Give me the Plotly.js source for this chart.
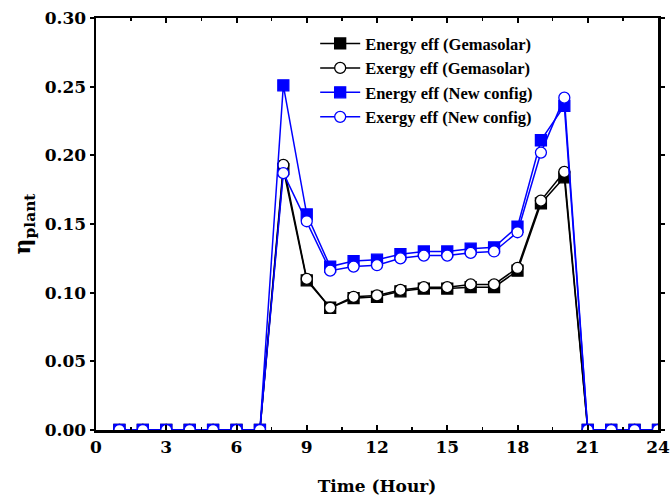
<!DOCTYPE html>
<html>
<head>
<meta charset="utf-8">
<script src="https://cdn.plot.ly/plotly-3.0.1.min.js"></script>
<style>html,body{margin:0;padding:0;background:#fff;}#chart{width:671px;height:499px;}</style>
</head>
<body>
<div id="chart"></div>
<script>
const hours = [1,2,3,4,5,6,7,8,9,10,11,12,13,14,15,16,17,18,19,20,21,22,23,24];
const energyGemasolar = [0,0,0,0,0,0,0,0.190,0.109,0.089,0.096,0.097,0.101,0.103,0.103,0.104,0.104,0.116,0.165,0.184,0,0,0,0];
const exergyGemasolar = [0,0,0,0,0,0,0,0.193,0.110,0.089,0.097,0.098,0.102,0.104,0.104,0.106,0.106,0.118,0.167,0.188,0,0,0,0];
const energyNew = [0,0,0,0,0,0,0,0.251,0.157,0.119,0.123,0.124,0.128,0.130,0.130,0.132,0.133,0.148,0.211,0.236,0,0,0,0];
const exergyNew = [0,0,0,0,0,0,0,0.187,0.152,0.116,0.119,0.120,0.125,0.127,0.127,0.129,0.130,0.144,0.202,0.242,0,0,0,0];
const seriesNames = ["Energy eff (Gemasolar)","Exergy eff (Gemasolar)","Energy eff (New config)","Exergy eff (New config)"];

const font = "DejaVu Serif, Liberation Serif, serif";
const legendFont = "Liberation Serif, DejaVu Serif, serif";
function tr(y, name, color, symbol, fill){
  return {x: hours, y: y, name: name, type: "scatter", mode: "lines+markers",
    line: {color: color, width: 1.5},
    marker: {symbol: symbol, size: 11, color: fill, line: {color: color, width: 1.3}}};
}
const data = [
  tr(energyGemasolar, seriesNames[0], "#000000", "square", "#000000"),
  tr(exergyGemasolar, seriesNames[1], "#000000", "circle", "#ffffff"),
  tr(energyNew, seriesNames[2], "#0000ff", "square", "#0000ff"),
  tr(exergyNew, seriesNames[3], "#0000ff", "circle", "#ffffff")
];
const layout = {
  width: 671, height: 499,
  margin: {l: 96, r: 13, t: 18, b: 69},
  paper_bgcolor: "#fff", plot_bgcolor: "#fff",
  font: {family: font, color: "#000", size: 17},
  showlegend: true,
  legend: {x: 0.39, y: 0.98, xanchor: "left", yanchor: "top", bgcolor: "rgba(0,0,0,0)",
    font: {family: legendFont, size: 16.5, color: "#000", weight: "bold"}, tracegroupgap: 0, itemwidth: 40},
  xaxis: {range: [0, 24], tick0: 0, dtick: 3, showgrid: false, zeroline: false,
    showline: true, mirror: "ticks", linecolor: "#000", linewidth: 2.5,
    ticks: "inside", ticklen: 5, tickwidth: 2, tickcolor: "#000",
    minor: {dtick: 1.5, ticks: "inside", ticklen: 3, tickwidth: 1.5, tickcolor: "#000"},
    tickfont: {family: font, size: 17, weight: "bold"},
    title: {text: "Time (Hour)", font: {family: font, size: 17, weight: "bold"}, standoff: 24}},
  yaxis: {range: [0, 0.30], tick0: 0, dtick: 0.05, tickformat: ".2f", showgrid: false, zeroline: false,
    showline: true, mirror: "ticks", linecolor: "#000", linewidth: 2.5,
    ticks: "outside", ticklen: 4, tickwidth: 2, tickcolor: "#000",
    tickfont: {family: font, size: 17, weight: "bold"},
    title: {text: "η<sub>plant</sub>", font: {family: font, size: 22, weight: "bold"}, standoff: 8}}
};
Plotly.newPlot("chart", data, layout, {displayModeBar: false, staticPlot: true});
</script>
</body>
</html>
